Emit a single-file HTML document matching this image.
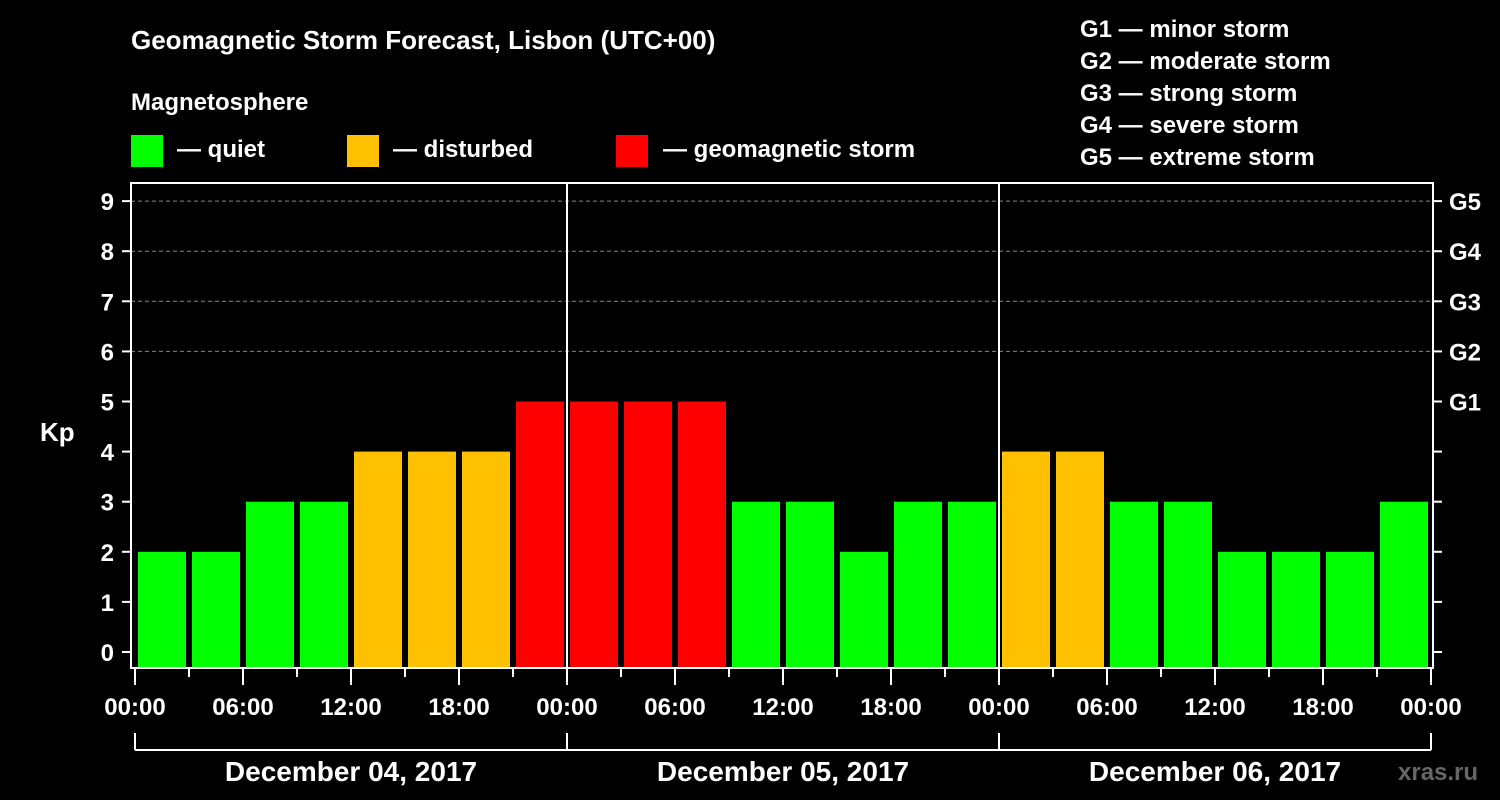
<!DOCTYPE html>
<html><head><meta charset="utf-8"><style>
body{margin:0;background:#000;}
svg{display:block;font-family:"Liberation Sans",Arial,sans-serif;font-weight:bold;}
</style></head><body>
<svg id="chart" width="1500" height="800" viewBox="0 0 1500 800">
<rect width="1500" height="800" fill="#000"/>
<text x="131" y="49" fill="#fff" font-size="26">Geomagnetic Storm Forecast, Lisbon (UTC+00)</text>
<text x="131" y="110" fill="#fff" font-size="24">Magnetosphere</text>
<g><rect x="131" y="135" width="32" height="32" fill="#00ff00"/><text x="177" y="157" fill="#fff" font-size="24">— quiet</text></g>
<g><rect x="347" y="135" width="32" height="32" fill="#ffc000"/><text x="393" y="157" fill="#fff" font-size="24">— disturbed</text></g>
<g><rect x="616" y="135" width="32" height="32" fill="#ff0000"/><text x="663" y="157" fill="#fff" font-size="24">— geomagnetic storm</text></g>
<g fill="#fff" font-size="24">
<text x="1080" y="37">G1 — minor storm</text>
<text x="1080" y="69">G2 — moderate storm</text>
<text x="1080" y="101">G3 — strong storm</text>
<text x="1080" y="133">G4 — severe storm</text>
<text x="1080" y="165">G5 — extreme storm</text>
</g>
<text x="40" y="441" fill="#fff" font-size="26">Kp</text>
<text x="1398" y="780" fill="#666" font-size="24">xras.ru</text>
<g id="plot"></g>
</svg>
<script>
const kpValues=[2,2,3,3,4,4,4,5,5,5,5,3,3,2,3,3,4,4,3,3,2,2,2,3];
const dayLabels=["December 04, 2017","December 05, 2017","December 06, 2017"];
const hourLabels=["00:00","06:00","12:00","18:00"];
const gLabels=["G1","G2","G3","G4","G5"];
const yTicks=[0,1,2,3,4,5,6,7,8,9];
const NS="http://www.w3.org/2000/svg";
const g=document.getElementById('plot');
const x0=135,dayW=432,hourW=dayW/24;
const X=h=>x0+h*hourW;
const Y=v=>652-v*50.1;
function mk(t,a){const e=document.createElementNS(NS,t);for(const k in a)e.setAttribute(k,a[k]);g.appendChild(e);return e;}
// grid
[6,7,8,9].forEach(v=>{
 const l=mk('line',{x1:131,x2:1433,y1:Y(v),y2:Y(v),stroke:'#888','stroke-dasharray':'4,3','stroke-width':1});
 
 
});
// bars
kpValues.forEach((v,i)=>{
 const c=v>=5?'#ff0000':v>=4?'#ffc000':'#00ff00';
 const r=mk('rect',{x:X(i*3)+3,y:Y(v),width:48,height:668-Y(v),fill:c});
 
 
});
// day separators
for(let d=1;d<dayLabels.length;d++){
 const l=mk('line',{x1:X(d*24),x2:X(d*24),y1:183,y2:668,stroke:'#fff','stroke-width':2});
 
 
}
// frame
const fr=mk('rect',{x:131,y:183,width:1302,height:485,fill:'none',stroke:'#fff','stroke-width':2});


// y ticks
yTicks.forEach(v=>{
 const t=mk('line',{x1:122,x2:131,y1:Y(v),y2:Y(v),stroke:'#fff','stroke-width':2});
 
 
 const t2=mk('line',{x1:1433,x2:1442,y1:Y(v),y2:Y(v),stroke:'#fff','stroke-width':2});
 
 
 const tx=mk('text',{x:114,y:Y(v)+9,fill:'#fff','font-size':24,'text-anchor':'end'});
 tx.textContent=v;
 
 
});
gLabels.forEach((s,i)=>{
 const tx=mk('text',{x:1449,y:Y(5+i)+9,fill:'#fff','font-size':24});
 tx.textContent=s;
 
 
});
// x ticks
const nDays=dayLabels.length;
for(let h=0;h<=nDays*24;h+=3){
 const major=h%6===0;
 const t=mk('line',{x1:X(h),x2:X(h),y1:668,y2:major?685:677,stroke:'#fff','stroke-width':2});
 
 
 if(major){
  const tx=mk('text',{x:X(h),y:715,fill:'#fff','font-size':24,'text-anchor':'middle'});
  tx.textContent=hourLabels[(h%24)/6];
  
  
 }
}
// day brackets
const br=mk('line',{x1:X(0),x2:X(nDays*24),y1:750,y2:750,stroke:'#fff','stroke-width':2});


for(let d=0;d<=nDays;d++){
 const l=mk('line',{x1:X(d*24),x2:X(d*24),y1:733,y2:750,stroke:'#fff','stroke-width':2});
 
 
}
dayLabels.forEach((s,d)=>{
 const tx=mk('text',{x:X(d*24+12),y:781,fill:'#fff','font-size':28,'text-anchor':'middle'});
 tx.textContent=s;
 
 
});
</script>
</body></html>
